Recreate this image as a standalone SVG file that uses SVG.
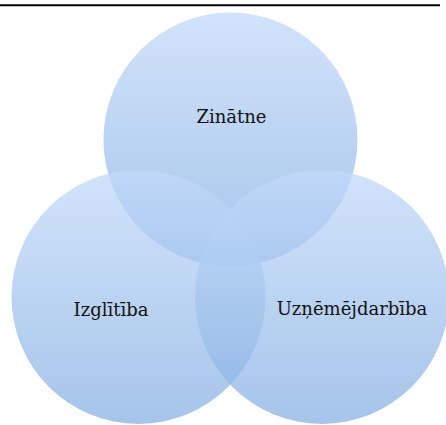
<svg xmlns="http://www.w3.org/2000/svg" width="446" height="425" viewBox="0 0 446 425">
  <defs>
    <linearGradient id="g" x1="0" y1="0" x2="0" y2="1">
      <stop offset="0" stop-color="#c3dafa"/>
      <stop offset="1" stop-color="#88b1e3"/>
    </linearGradient>
    <style>
      .c { fill: url(#g); fill-opacity: 0.75; }
      .t { font-family: "DejaVu Serif", serif; font-size: 18px; fill: #111; text-anchor: middle; }
    </style>
  </defs>
  <rect width="446" height="425" fill="#ffffff"/>
  <line x1="0" y1="5.3" x2="440" y2="5.3" stroke="#000" stroke-width="2"/>
  <g id="zinatne">
    <circle class="c" cx="230.5" cy="139.5" r="127"/>
  </g>
  <g id="izglitiba">
    <circle class="c" cx="138.5" cy="297" r="127"/>
  </g>
  <g id="uznemejdarbiba">
    <circle class="c" cx="322" cy="297" r="127"/>
  </g>
  <g id="labels">
    <text class="t" x="231.5" y="123">Zinātne</text>
    <text class="t" x="111" y="315.5">Izglītība</text>
    <text class="t" x="352" y="315">Uzņēmējdarbība</text>
  </g>
  <g id="connectors"/>
</svg>
